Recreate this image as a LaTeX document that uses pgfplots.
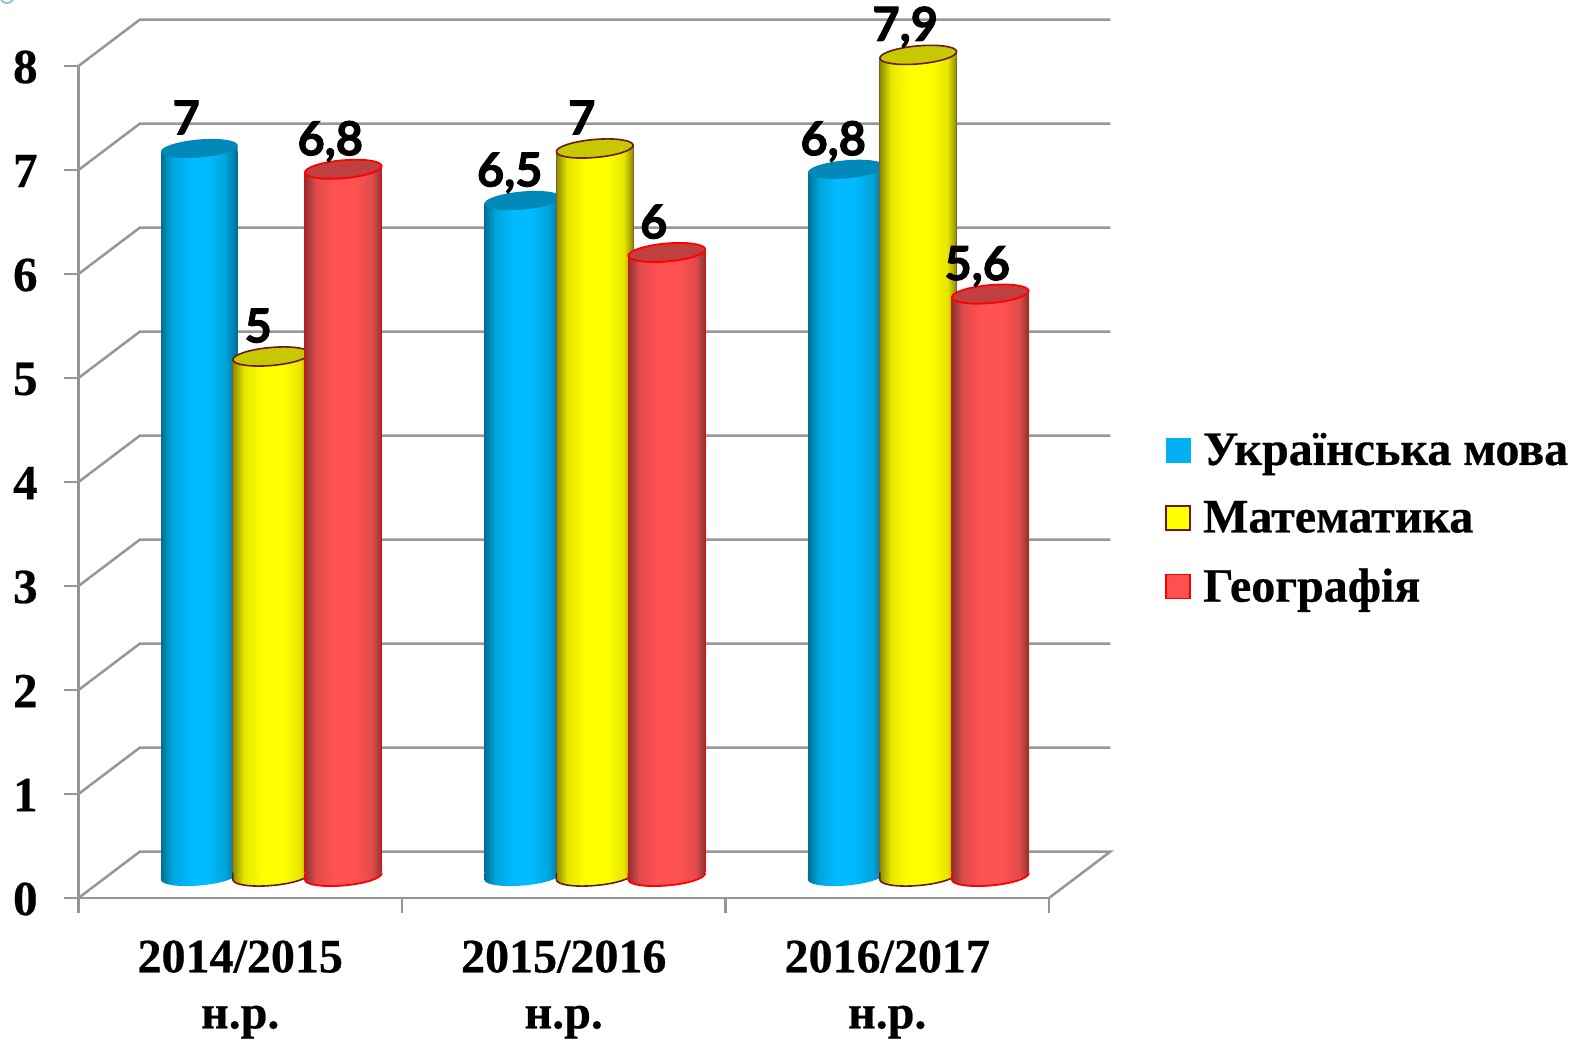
\documentclass[border=0pt]{standalone}
\usepackage{fontspec}
\setmainfont[BoldFeatures={FakeBold=0.5}]{Liberation Serif}
\newfontfamily\labfont[BoldFeatures={FakeBold=2}]{Lato}
\usepackage{pgfplots}
\usepackage{pgfplotstable}
\pgfplotsset{compat=1.18}
\definecolor{gridg}{HTML}{969696}
\definecolor{ymk}{HTML}{6B1A1A}
\definecolor{ysd}{HTML}{8A5A30}
\definecolor{legb}{HTML}{00B0F0}
\definecolor{legy}{HTML}{FFFF00}
\definecolor{legr}{HTML}{FF5050}
\definecolor{blA}{HTML}{006F92}\definecolor{blB}{HTML}{00A4DC}\definecolor{blC}{HTML}{00BBFF}\definecolor{blT}{HTML}{0088B8}
\definecolor{yeA}{HTML}{8C8C00}\definecolor{yeB}{HTML}{E6E600}\definecolor{yeC}{HTML}{FFFF00}\definecolor{yeT}{HTML}{C8C800}
\definecolor{reA}{HTML}{8A3535}\definecolor{reB}{HTML}{E04A4A}\definecolor{reC}{HTML}{FF5252}\definecolor{reT}{HTML}{C04040}
\pgfdeclarehorizontalshading{cylbl}{100bp}{color(0bp)=(blA);color(25bp)=(blA);color(32bp)=(blB);color(44bp)=(blC);color(55bp)=(blC);color(67bp)=(blB);color(75bp)=(blA);color(100bp)=(blA)}
\pgfdeclarehorizontalshading{cylye}{100bp}{color(0bp)=(yeA);color(25bp)=(yeA);color(32bp)=(yeB);color(44bp)=(yeC);color(58bp)=(yeC);color(69bp)=(yeB);color(75bp)=(yeA);color(100bp)=(yeA)}
\pgfdeclarehorizontalshading{cylre}{100bp}{color(0bp)=(reA);color(25bp)=(reA);color(32bp)=(reB);color(44bp)=(reC);color(58bp)=(reC);color(69bp)=(reB);color(75bp)=(reA);color(100bp)=(reA)}
\newcommand\cylmarks[4]{%
 \pgfdeclareplotmark{#1top}{%
  \path[draw=none,shade,shading=#2] (-19.18pt,-1.68pt)--(19.18pt,-1.68pt)--(19.18pt,1.68pt)--cycle;
  \path[fill=#3,#4] \pgfextra{\pgfpathellipse{\pgfpointorigin}{\pgfpoint{19.18pt}{1.68pt}}{\pgfpoint{-.39pt}{4.48pt}}};}%
 \pgfdeclareplotmark{#1bot}{%
  \path[draw=none,shade,shading=#2] (-19.18pt,2pt)--(-19.18pt,-1.68pt) .. controls (-18.965pt,-4.154pt) and (-10.2pt,-5.41pt) .. (.39pt,-4.48pt) .. controls (10.98pt,-3.55pt) and (19.395pt,-.794pt) .. (19.18pt,1.68pt)--(19.18pt,2pt)--cycle;
  \path[#4] (-19.18pt,2pt)--(-19.18pt,-1.68pt) .. controls (-18.965pt,-4.154pt) and (-10.2pt,-5.41pt) .. (.39pt,-4.48pt) .. controls (10.98pt,-3.55pt) and (19.395pt,-.794pt) .. (19.18pt,1.68pt)--(19.18pt,2pt);}%
}
\cylmarks{bl}{cylbl}{blT}{draw=none}
\cylmarks{ye}{cylye}{yeT}{draw=ymk,line width=.8pt}
\cylmarks{re}{cylre}{reT}{draw=red,line width=.9pt}
\pgfplotstableread{
x val lab
0.2774 7 7
1.2774 6.5 6,5
2.2774 6.8 6,8
}\tblbl
\pgfplotstableread{
x val lab
0.5 5 5
1.5 7 7
2.5 7.9 7,9
}\tblye
\pgfplotstableread{
x val lab
0.7226 6.8 6,8
1.7226 6 6
2.7226 5.6 5,6
}\tblre
\pgfplotsset{onebar/.style={ybar,bar width=38.2pt,bar shift=0pt,draw=none,shade,shading=#1,forget plot},
 seriesaxis/.style={at={(54.75pt,83.33pt)},anchor=south west,scale only axis,width=485.25pt,height=413.92pt,
  xmin=0,xmax=3,ymin=0.04,ymax=8,clip=false,hide axis}}
\newcommand\cyl[3]{%
 \addplot[only marks,mark=#1bot,forget plot] table[x=x,y expr=0]{#2};
 \addplot[onebar=#3] table[x=x,y expr=\thisrow{val}-0.032,skip coords between index={1}{3}]{#2};
 \addplot[onebar=#3] table[x=x,y expr=\thisrow{val}-0.032,skip coords between index={0}{1},skip coords between index={2}{3}]{#2};
 \addplot[onebar=#3] table[x=x,y expr=\thisrow{val}-0.032,skip coords between index={0}{2}]{#2};
}
\newcommand\cylend[2]{%
 \addplot[only marks,mark=#1top,forget plot,point meta=explicit symbolic,nodes near coords,
   nodes near coords style={anchor=base,inner sep=0pt,xshift=-6.5pt,yshift=7pt,text=black,font=\labfont\bfseries\fontsize{23.5}{24}\selectfont}]
   table[x=x,y=val,meta=lab]{#2};
}
\begin{document}
\begin{tikzpicture}
\path[use as bounding box] (0,0) rectangle (791.5pt,519.5pt);
\clip (0,0) rectangle (791.5pt,519.5pt);
\begin{axis}[
 at={(39.25pt,70.5pt)},anchor=south west,scale only axis,width=485.25pt,height=416pt,
 xmin=0,xmax=3,ymin=0,ymax=8,clip=false,
 axis lines*=left,axis line style={-,gridg,line width=1.25pt},
 tick style={gridg,line width=1.25pt},tick align=outside,major tick length=7.25pt,
 xtick={0,1,2,3},xticklabels={},
 extra x ticks={0.5,1.5,2.5},
 extra x tick labels={2014/2015\\н.р.,2015/2016\\н.р.,2016/2017\\н.р.},
 extra x tick style={major tick length=0pt,tick style={draw=none}},
 xticklabel style={align=center,inner sep=0pt,yshift=-21pt,font=\bfseries\fontsize{24}{28}\selectfont},
 ytick={0,1,2,3,4,5,6,7,8},
 /pgf/number format/assume math mode=true,
 yticklabel style={inner sep=0pt,xshift=-13pt,yshift=-.5pt,font=\bfseries\fontsize{24.5}{25}\selectfont},
 legend style={at={(axis cs:3.358,4.515)},anchor=north west,draw=none,fill=none,inner sep=0pt,
   cells={anchor=west},row sep=12.5pt,font=\bfseries\fontsize{24}{29}\selectfont,
   /tikz/every even column/.style={column sep=0pt}},
 legend cell align=left,
]
\addplot[gridg,line width=1.25pt,forget plot] coordinates {(0,0)(0.19,0.447)(3.19,0.447)(3,0)};
\addplot[gridg,line width=1.25pt,forget plot] coordinates {(0,1)(0.19,1.447)(3.19,1.447)};
\addplot[gridg,line width=1.25pt,forget plot] coordinates {(0,2)(0.19,2.447)(3.19,2.447)};
\addplot[gridg,line width=1.25pt,forget plot] coordinates {(0,3)(0.19,3.447)(3.19,3.447)};
\addplot[gridg,line width=1.25pt,forget plot] coordinates {(0,4)(0.19,4.447)(3.19,4.447)};
\addplot[gridg,line width=1.25pt,forget plot] coordinates {(0,5)(0.19,5.447)(3.19,5.447)};
\addplot[gridg,line width=1.25pt,forget plot] coordinates {(0,6)(0.19,6.447)(3.19,6.447)};
\addplot[gridg,line width=1.25pt,forget plot] coordinates {(0,7)(0.19,7.447)(3.19,7.447)};
\addplot[gridg,line width=1.25pt,forget plot] coordinates {(0,8)(0.19,8.447)(3.19,8.447)};
\addlegendimage{legend image code/.code={\fill[legb,x=.5pt,y=.5pt] (0,-12) rectangle (24,12);\path[draw=none,x=.5pt,y=.5pt] (0,0)--(33,0);}}
\addlegendentry{Українська мова}
\addlegendimage{legend image code/.code={\draw[fill=legy,draw=ymk,line width=.9pt,x=.5pt,y=.5pt] (0,-12) rectangle (24,12);\path[draw=none,x=.5pt,y=.5pt] (0,0)--(33,0);}}
\addlegendentry{Математика}
\addlegendimage{legend image code/.code={\draw[fill=legr,draw=red,line width=.8pt,x=.5pt,y=.5pt] (0,-12) rectangle (24,12);\path[draw=none,x=.5pt,y=.5pt] (0,0)--(33,0);}}
\addlegendentry{Географія}
\end{axis}
\begin{axis}[seriesaxis]
\cyl{bl}{\tblbl}{cylbl}
\cylend{bl}{\tblbl}
\end{axis}
\begin{axis}[seriesaxis]
\cyl{ye}{\tblye}{cylye}
\addplot[ycomb,ysd,line width=.5pt,mark=none,forget plot] table[x expr=\thisrow{x}-0.119,y expr=\thisrow{val}-0.032]{\tblye};
\addplot[ycomb,ysd,line width=.5pt,mark=none,forget plot] table[x expr=\thisrow{x}+0.119,y expr=\thisrow{val}+0.032]{\tblye};
\cylend{ye}{\tblye}
\end{axis}
\begin{axis}[seriesaxis]
\cyl{re}{\tblre}{cylre}
\addplot[ycomb,red,line width=.5pt,mark=none,forget plot] table[x expr=\thisrow{x}-0.119,y expr=\thisrow{val}-0.032]{\tblre};
\addplot[ycomb,red,line width=.5pt,mark=none,forget plot] table[x expr=\thisrow{x}+0.119,y expr=\thisrow{val}+0.032]{\tblre};
\cylend{re}{\tblre}
\end{axis}
\draw[color={rgb,255:red,130;green,190;blue,205},line width=.8pt] (3.5pt,521.5pt) circle (3.5pt);
\end{tikzpicture}
\end{document}
